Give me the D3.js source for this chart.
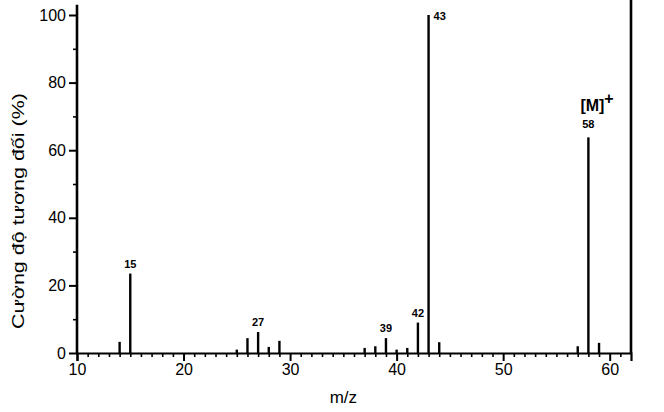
<!DOCTYPE html>
<html><head><meta charset="utf-8">
<script src="https://cdn.jsdelivr.net/npm/d3@7"></script>
<style>body{margin:0;background:#fff}svg{display:block}</style>
</head><body>
<svg id="c" width="664" height="412"></svg>
<script>
const mz =        [14, 15, 25, 26, 27, 28, 29, 37, 38, 39, 40, 41, 42, 43, 44, 57, 58, 59];
const intensity = [3.3, 23.5, 1, 4.4, 6.2, 1.8, 3.6, 1.5, 2, 4.4, 1, 1.5, 9, 100, 3.2, 2, 63.8, 3];
const peakLabels = [15, 27, 39, 42, 43, 58];
const xTicks = [10, 20, 30, 40, 50, 60];
const yTicks = [0, 20, 40, 60, 80, 100];
const xLabel = "m/z";
const yLabel = "Cường độ tương đối (%)";
const ionLabel = "[M]";

const svg = d3.select("#c");
const x = d3.scaleLinear().domain([10, 62]).range([77, 631]);
const y = d3.scaleLinear().domain([0, 100]).range([353, 15]);
const font = "Arial, 'Liberation Sans', sans-serif";

// peaks
svg.append("g").selectAll("line").data(mz).join("line")
  .attr("x1", d => x(d)).attr("x2", d => x(d))
  .attr("y1", y(0)).attr("y2", (d, i) => y(intensity[i]))
  .attr("stroke", "#000").attr("stroke-width", 2.4);

// x axis
const xa = svg.append("g").attr("transform", `translate(0,${y(0)})`)
  .call(d3.axisBottom(x).tickValues(xTicks).tickFormat(d3.format("d")).tickSize(8).tickPadding(3));
xa.select(".domain").attr("stroke-width", 2.2);
xa.selectAll(".tick line").attr("stroke-width", 2);
xa.selectAll("text").attr("font-size", 16).attr("font-family", font).attr("fill", "#000");
const xm = svg.append("g").attr("transform", `translate(0,${y(0)})`)
  .call(d3.axisBottom(x).tickValues(d3.range(11, 62).filter(v => v % 10 !== 0)).tickFormat("").tickSize(4));
xm.select(".domain").remove();
xm.selectAll(".tick line").attr("stroke-width", 1.6);

// y axis
const ya = svg.append("g").attr("transform", `translate(${x(10)},0)`)
  .call(d3.axisLeft(y).tickValues(yTicks).tickFormat(d3.format("d")).tickSize(8).tickPadding(3));
ya.select(".domain").remove();
ya.selectAll(".tick line").attr("stroke-width", 2);
ya.selectAll("text").attr("font-size", 16).attr("font-family", font).attr("fill", "#000");
const ym = svg.append("g").attr("transform", `translate(${x(10)},0)`)
  .call(d3.axisLeft(y).tickValues([10, 30, 50, 70, 90]).tickFormat("").tickSize(4));
ym.select(".domain").remove();
ym.selectAll(".tick line").attr("stroke-width", 1.6);
svg.append("line").attr("x1", x(10)).attr("x2", x(10)).attr("y1", y(103)).attr("y2", y(0))
  .attr("stroke", "#000").attr("stroke-width", 2.6);
// right border
svg.append("line").attr("x1", x(62)).attr("x2", x(62)).attr("y1", 0).attr("y2", y(0))
  .attr("stroke", "#000").attr("stroke-width", 2.6);

// peak labels
peakLabels.forEach(p => {
  const v = intensity[mz.indexOf(p)];
  const t = svg.append("text").attr("font-family", font).attr("font-size", 11).attr("font-weight", "bold").text(p);
  if (p === 43) t.attr("x", x(p) + 5).attr("y", y(v) + 5).attr("text-anchor", "start");
  else t.attr("x", x(p)).attr("y", y(v) - 6 - (p === 58 ? 3 : 0)).attr("text-anchor", "middle");
});
// [M]+
const m = svg.append("text").attr("x", x(58) - 8).attr("y", y(63.8) - 26)
  .attr("font-family", font).attr("font-size", 16).attr("font-weight", "bold").attr("text-anchor", "start");
m.append("tspan").text(ionLabel);
m.append("tspan").attr("dy", -7).attr("font-size", 16).text("+");

// axis titles
svg.append("text").attr("x", x(35)).attr("y", 403).attr("text-anchor", "middle")
  .attr("font-family", font).attr("font-size", 17).text(xLabel);
svg.append("text").attr("transform", `translate(24,${y(42)}) rotate(-90)`).attr("text-anchor", "middle")
  .attr("font-family", font).attr("font-size", 17)
  .attr("textLength", 236).attr("lengthAdjust", "spacingAndGlyphs").text(yLabel);
</script>
</body></html>
